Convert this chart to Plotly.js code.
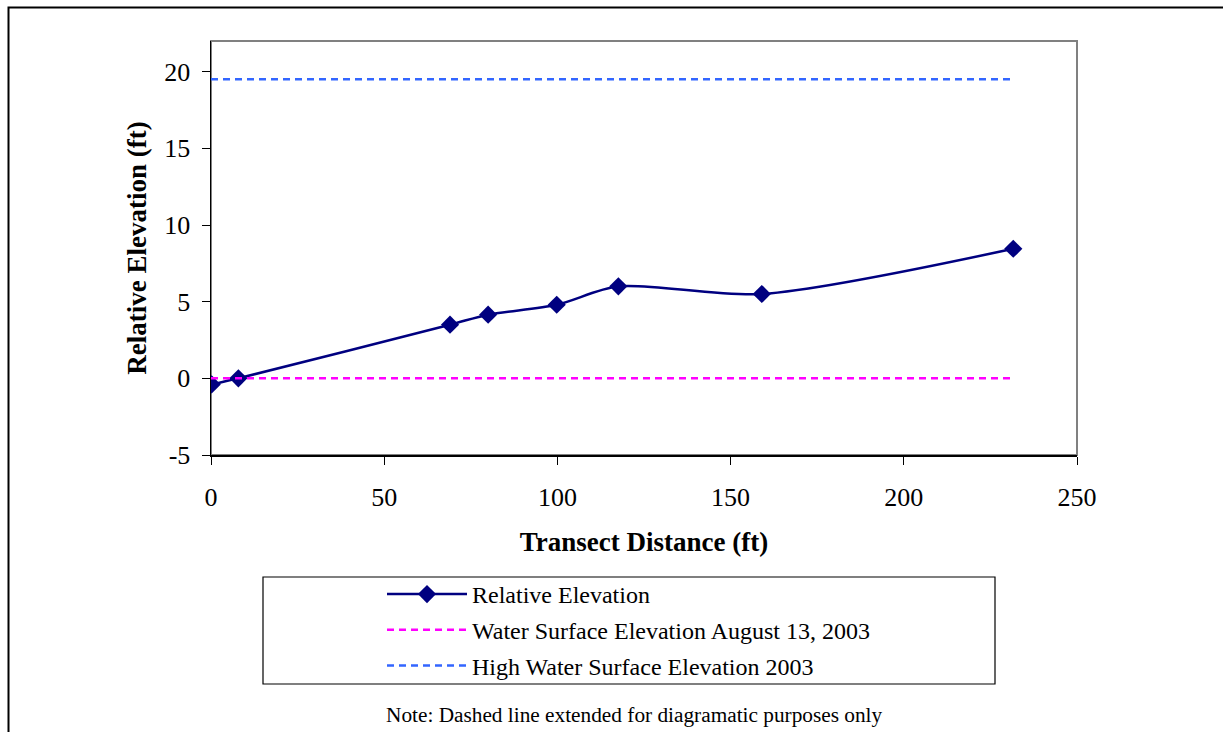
<!DOCTYPE html>
<html>
<head>
<meta charset="utf-8">
<script src="https://cdn.plot.ly/plotly-3.0.1.min.js"></script>
<style>html,body{margin:0;padding:0;background:#fff;}#chart{width:1223px;height:732px;}</style>
</head>
<body>
<div id="chart"></div>
<script>
// Data
const distance = [0.2, 7.9, 69, 80, 99.8, 117.6, 159, 231.6];
const elevation = [-0.4, 0.0, 3.5, 4.15, 4.8, 6.0, 5.5, 8.45];
const waterLineX = [0, 231];
const waterAug13 = [0, 0];
const highWater2003 = [19.5, 19.5];
const seriesNames = ['Relative Elevation', 'Water Surface Elevation August 13, 2003', 'High Water Surface Elevation 2003'];
const xTicks = [0, 50, 100, 150, 200, 250];
const yTicks = [-5, 0, 5, 10, 15, 20];

const serif = 'Liberation Serif, Times New Roman, serif';
const W = 1223, H = 732;
const L = 211, R = 1077, T = 41, B = 455;
const px = x => (x - L) / (R - L);
const py = y => (B - y) / (B - T);

const traces = [
  {x: distance, y: elevation, name: seriesNames[0], legendgroup: 'a', mode: 'lines+markers',
   line: {color: '#000080', width: 2.5, shape: 'spline', smoothing: 0.8},
   marker: {symbol: 'diamond', size: 14, color: '#000080'}},
  {x: waterLineX, y: waterAug13, name: seriesNames[1], legendgroup: 'b', mode: 'lines',
   line: {color: '#FF00FF', width: 2.5, dash: '7px,5px'}},
  {x: waterLineX, y: highWater2003, name: seriesNames[2], legendgroup: 'c', mode: 'lines',
   line: {color: '#3366FF', width: 2.5, dash: '7px,5px'}}
];

const layout = {
  width: W, height: H,
  margin: {l: L, r: W - R, t: T, b: H - B, pad: 0},
  paper_bgcolor: '#ffffff', plot_bgcolor: '#ffffff',
  font: {family: serif, color: '#000', size: 26},
  showlegend: true,
  legend: {
    x: px(382), y: py(572), xanchor: 'left', yanchor: 'top',
    bgcolor: 'rgba(0,0,0,0)', borderwidth: 0,
    font: {family: serif, size: 24, color: '#000'},
    itemwidth: 80, tracegroupgap: 1.5
  },
  xaxis: {
    range: [0, 250], tickvals: xTicks, ticktext: xTicks.map(String),
    showgrid: false, zeroline: false, showline: true, linecolor: '#000', linewidth: 1.5,
    ticks: 'outside', ticklen: 8, tickcolor: '#000', tickwidth: 1,
    ticklabelstandoff: 10,
    tickfont: {family: serif, size: 26},
    title: {text: 'Transect Distance (ft)', font: {family: serif, size: 27, weight: 'bold'}, standoff: 21}
  },
  yaxis: {
    range: [-5, 22], tickvals: yTicks, ticktext: yTicks.map(String),
    showgrid: false, zeroline: false, showline: true, linecolor: '#000', linewidth: 1.5,
    ticks: 'outside', ticklen: 8, tickcolor: '#000', tickwidth: 1,
    ticklabelstandoff: 6,
    tickfont: {family: serif, size: 26},
    title: {text: 'Relative Elevation (ft)', font: {family: serif, size: 27, weight: 'bold'}, standoff: 10}
  },
  shapes: [
    {type: 'rect', xref: 'paper', yref: 'paper', x0: 0, x1: 1, y0: 0, y1: 1,
     line: {color: '#808080', width: 2}, layer: 'below'},
    {type: 'path', xref: 'paper', yref: 'paper',
     path: 'M' + px(8.5) + ',' + py(740) + ' L' + px(8.5) + ',' + py(7.5) + ' L' + px(1230) + ',' + py(7.5),
     line: {color: '#000', width: 2}},
    {type: 'rect', xref: 'paper', yref: 'paper', x0: px(263), x1: px(995), y0: py(684), y1: py(577),
     line: {color: '#000', width: 1.2}}
  ],
  annotations: [
    {xref: 'paper', yref: 'paper', x: px(634), y: py(715), xanchor: 'center', yanchor: 'middle',
     text: 'Note: Dashed line extended for diagramatic purposes only', showarrow: false,
     font: {family: serif, size: 21.3, color: '#000'}}
  ]
};

Plotly.newPlot('chart', traces, layout, {displayModeBar: false, staticPlot: true});
</script>
</body>
</html>
